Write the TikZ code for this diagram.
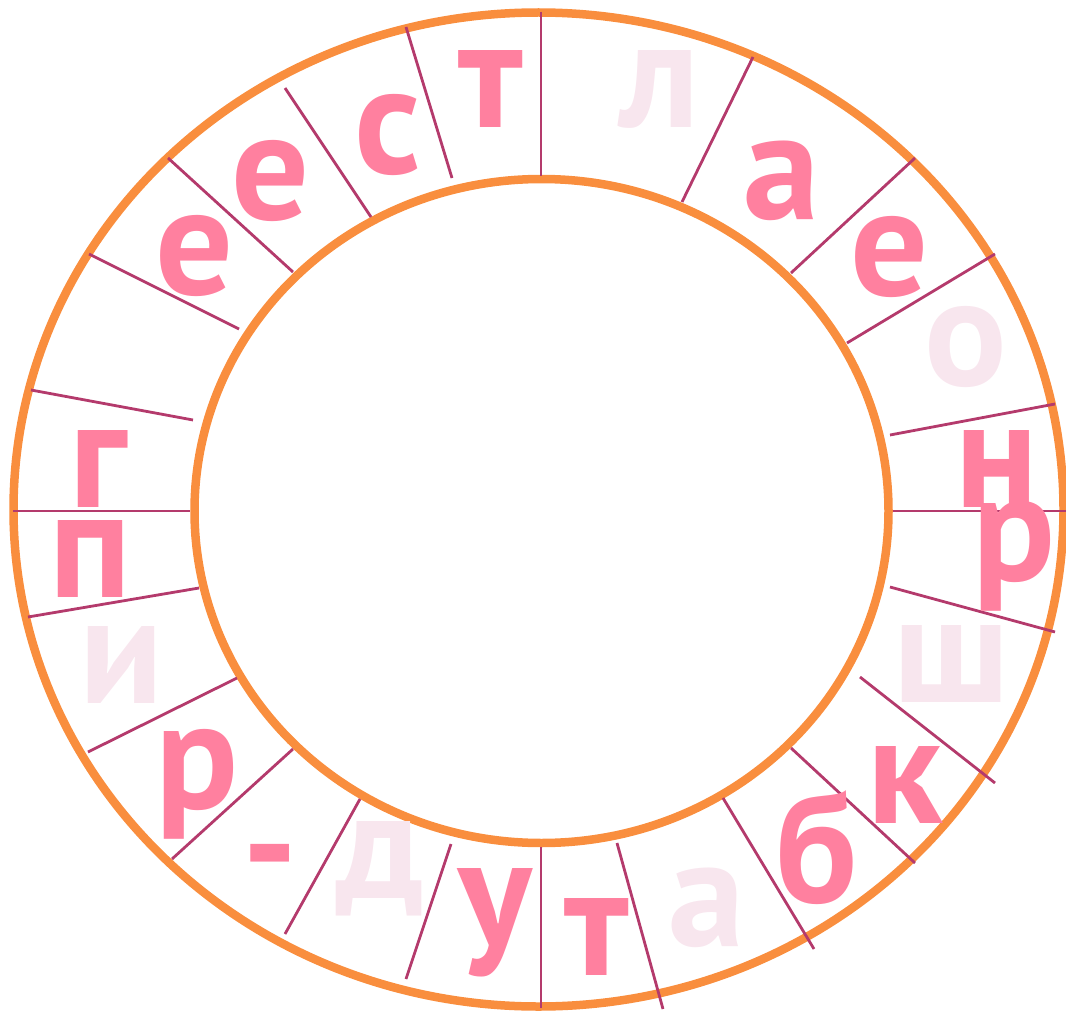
\documentclass[tikz,border=0pt]{standalone}
\usepackage{fontspec}
\setmainfont{PT Sans}
\definecolor{ringorange}{HTML}{F98E3E}
\definecolor{divline}{HTML}{B43A6C}
\definecolor{letterpink}{HTML}{FF809F}
\definecolor{letterlight}{HTML}{F8E6EE}
\tikzset{
  ring/.style={draw=ringorange,line width=8.5pt},
  divider/.style={draw=divline,line width=2.8pt},
  lt/.style={inner sep=0pt,anchor=base,text=letterpink,font=\fontsize{154}{154}\selectfont\bfseries},
  ltl/.style={lt,text=letterlight}
}
\begin{document}
\begin{tikzpicture}[x=1pt,y=-1pt]
\useasboundingbox (0,0) rectangle (1066,1014);
% rings
\draw[ring] (538.5,509.5) ellipse [x radius=525, y radius=497];
\draw[ring] (541.5,511) ellipse [x radius=347, y radius=332];
% divider end points
\coordinate (a1) at (541,12);   \coordinate (b1) at (541,176);
\coordinate (a2) at (753,57);   \coordinate (b2) at (682,202);
\coordinate (a3) at (915,158);  \coordinate (b3) at (791,273);
\coordinate (a4) at (995,254);  \coordinate (b4) at (847,343);
\coordinate (a5) at (1055,404); \coordinate (b5) at (890,435);
\coordinate (a6) at (1066,511); \coordinate (b6) at (893,511);
\coordinate (a7) at (1055,632); \coordinate (b7) at (890,587);
\coordinate (a8) at (995,783);  \coordinate (b8) at (860,677);
\coordinate (a9) at (915,863);  \coordinate (b9) at (791,748);
\coordinate (a10) at (814,949); \coordinate (b10) at (723,798);
\coordinate (a11) at (663,1009);\coordinate (b11) at (617,843);
\coordinate (a12) at (541,1008);\coordinate (b12) at (541,847);
\coordinate (a13) at (406,979); \coordinate (b13) at (451,844);
\coordinate (a14) at (285,934); \coordinate (b14) at (360,799);
\coordinate (a15) at (172,859); \coordinate (b15) at (293,749);
\coordinate (a16) at (88,752);  \coordinate (b16) at (237,678);
\coordinate (a17) at (28,617);  \coordinate (b17) at (199,588);
\coordinate (a18) at (13,511);  \coordinate (b18) at (190,511);
\coordinate (a19) at (31,390);  \coordinate (b19) at (193,420);
\coordinate (a20) at (89,254);  \coordinate (b20) at (239,329);
\coordinate (a21) at (168,158); \coordinate (b21) at (293,272);
\coordinate (a22) at (285,88);  \coordinate (b22) at (371,217);
\coordinate (a23) at (406,27);  \coordinate (b23) at (452,178);
\foreach \i in {1,...,23} \draw[divider] (a\i) -- (b\i);
% letters
\node[lt]  (l1)  at (491,128) {т};
\node[ltl] (l2)  at (660,128) {л};
\node[lt]  (l3)  at (782,219) {а};
\node[lt]  (l4)  at (890,295) {е};
\node[ltl] (l5)  at (966,385) {о};
\node[lt]  (l6)  at (997,507) {н};
\node[lt]  (l7)  at (1014,580) {р};
\node[ltl] (l8)  at (952,702) {ш};
\node[lt]  (l9)  at (905,823) {к};
\node[lt]  (l10) at (817,902) {б};
\node[ltl] (l11) at (707,946) {а};
\node[lt]  (l12) at (597,975) {т};
\node[lt]  (l13) at (495,945) {у};
\node[ltl] (l14) at (380,898) {д};
\node[lt]  (l15) at (270,897) {-};
\node[lt]  (l16) at (197,808) {р};
\node[ltl] (l17) at (121,703) {и};
\node[lt]  (l18) at (90,597)  {п};
\node[lt]  (l19) at (98,507)  {г};
\node[lt]  (l20) at (195,294) {е};
\node[lt]  (l21) at (271,219) {е};
\node[lt]  (l22) at (388,174) {с};
\end{tikzpicture}
\end{document}
